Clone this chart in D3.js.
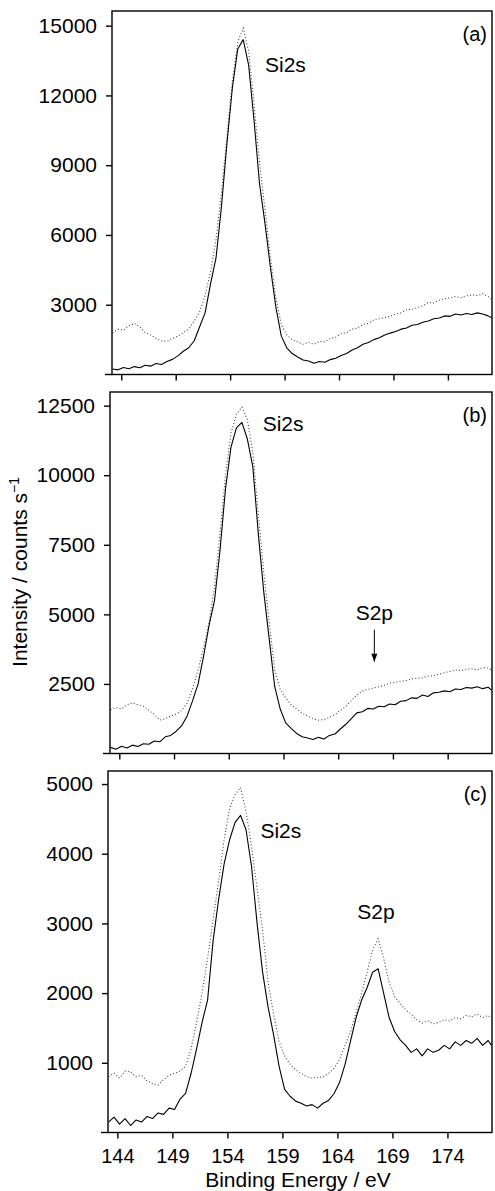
<!DOCTYPE html>
<html>
<head>
<meta charset="utf-8">
<script src="https://cdn.jsdelivr.net/npm/d3@7"></script>
<style>
body { margin: 0; background: #fff; }
svg { display: block; font-family: "Liberation Sans", Arial, Helvetica, sans-serif; }
</style>
</head>
<body>
<div id="chart"></div>
<script>
// binding energy (eV) of every sample
var energy = [143.2, 143.7, 144.2, 144.7, 145.2, 145.7, 146.2, 146.7, 147.2, 147.7,
    148.2, 148.7, 149.2, 149.7, 150.2, 150.7, 151.2, 151.7, 152.2, 152.7,
    153.2, 153.7, 154.2, 154.7, 155.2, 155.7, 156.2, 156.7, 157.2, 157.7,
    158.2, 158.7, 159.2, 159.7, 160.2, 160.7, 161.2, 161.7, 162.2, 162.7,
    163.2, 163.7, 164.2, 164.7, 165.2, 165.7, 166.2, 166.7, 167.2, 167.7,
    168.2, 168.7, 169.2, 169.7, 170.2, 170.7, 171.2, 171.7, 172.2, 172.7,
    173.2, 173.7, 174.2, 174.7, 175.2, 175.7, 176.2, 176.7, 177.2, 177.7, 178.0];

// panel (a)
var aSolid = [240, 200, 300, 250, 340, 290, 400, 360, 470, 430,
    560, 650, 800, 1000, 1150, 1450, 2050, 2650, 3900, 5000,
    7200, 9900, 12300, 14000, 14400, 13300, 10900, 8200, 6500, 4600,
    2900, 1650, 1150, 900, 750, 620, 580, 480, 560, 530,
    640, 700, 820, 900, 1050, 1150, 1300, 1380, 1500, 1580,
    1700, 1780, 1850, 1950, 2000, 2120, 2150, 2250, 2300, 2400,
    2430, 2520, 2500, 2600, 2560, 2620, 2580, 2650, 2600, 2520, 2440];
var aDotted = [1800, 1950, 1900, 2100, 2200, 2050, 1800, 1700, 1550, 1450,
    1420, 1550, 1650, 1800, 1950, 2300, 2700, 3400, 4400, 5800,
    7800, 10200, 12600, 14300, 14900, 13900, 11600, 9100, 7100, 5000,
    3300, 2150, 1700, 1500, 1400, 1300, 1380, 1300, 1420, 1400,
    1550, 1600, 1750, 1800, 1950, 2000, 2150, 2200, 2350, 2400,
    2450, 2500, 2600, 2650, 2780, 2800, 2880, 2950, 3100, 3080,
    3200, 3250, 3300, 3350, 3300, 3380, 3420, 3400, 3480, 3350, 3230];

// panel (b)
var bSolid = [220, 150, 260, 200, 300, 250, 350, 330, 450, 420,
    600, 650, 800, 1000, 1350, 1900, 2500, 3500, 4600, 5500,
    7300, 9500, 11000, 11700, 11900, 11300, 10300, 7900, 5800, 4100,
    2400, 1600, 1100, 900, 720, 600, 560, 500, 580, 520,
    650, 700, 880, 1050, 1250, 1460, 1500, 1620, 1600, 1700,
    1680, 1780, 1750, 1880, 1900, 2000, 1980, 2100, 2050, 2180,
    2200, 2250, 2220, 2320, 2300, 2370, 2350, 2400, 2330, 2380, 2280];
var bDotted = [1570, 1650, 1600, 1750, 1820, 1750, 1700, 1550, 1400, 1200,
    1250, 1350, 1420, 1550, 1800, 2350, 3000, 3800, 4700, 6000,
    7900, 10000, 11500, 12200, 12450, 12000, 10800, 8600, 6500, 4700,
    3000, 2300, 2000, 1750, 1600, 1450, 1350, 1250, 1200, 1220,
    1300, 1400, 1550, 1700, 1900, 2100, 2250, 2300, 2350, 2400,
    2450, 2530, 2550, 2600, 2620, 2680, 2700, 2720, 2780, 2800,
    2850, 2900, 2950, 3000, 2980, 3020, 3050, 3000, 3080, 3070, 3000];

// panel (c)
var cSolid = [150, 220, 120, 200, 100, 180, 150, 230, 200, 280,
    260, 350, 330, 480, 560, 850, 1200, 1580, 1900, 2750,
    3340, 3850, 4200, 4450, 4550, 4340, 3810, 3000, 2300, 1800,
    1400, 950, 620, 520, 450, 420, 380, 400, 350, 420,
    460, 560, 720, 980, 1320, 1650, 1900, 2080, 2300, 2350,
    2000, 1650, 1450, 1330, 1250, 1150, 1200, 1100, 1200, 1150,
    1180, 1250, 1200, 1300, 1250, 1320, 1280, 1350, 1250, 1320, 1250];
var cDotted = [800, 850, 780, 880, 870, 800, 820, 740, 700, 680,
    760, 820, 850, 880, 950, 1200, 1580, 2000, 2500, 3050,
    3600, 4200, 4650, 4850, 4950, 4600, 4100, 3500, 2900, 2150,
    1700, 1300, 1100, 980, 900, 850, 800, 780, 790, 800,
    850, 920, 1050, 1250, 1450, 1720, 2000, 2300, 2620, 2780,
    2500, 2150, 1950, 1850, 1760, 1700, 1620, 1570, 1600, 1560,
    1580, 1620, 1600, 1650, 1630, 1680, 1660, 1700, 1650, 1680, 1640];

var xTicks = [144, 149, 154, 159, 164, 169, 174];
var yTicksA = [3000, 6000, 9000, 12000, 15000];
var yTicksB = [2500, 5000, 7500, 10000, 12500];
var yTicksC = [1000, 2000, 3000, 4000, 5000];

var svgWidth = 495;
var svgHeight = 1191;
var right = 492;

var svg = d3.select("#chart").append("svg")
    .attr("width", svgWidth)
    .attr("height", svgHeight);

var panels = [
    { solid: aSolid, dotted: aDotted, ticks: yTicksA, ymax: 15630, left: 112, top: 11, bottom: 374.5,
      letter: "(a)", si: [157.2, 13000], s2p: null },
    { solid: bSolid, dotted: bDotted, ticks: yTicksB, ymax: 12990, left: 110, top: 392, bottom: 753.5,
      letter: "(b)", si: [157.1, 11600], s2p: "arrow" },
    { solid: cSolid, dotted: cDotted, ticks: yTicksC, ymax: 5187, left: 108, top: 771, bottom: 1132.5,
      letter: "(c)", si: [157.0, 4225], s2p: "label" }
];

panels.forEach(function (p, i) {
    var x = d3.scaleLinear().domain([143.15, 178.05]).range([p.left, right]);
    var y = d3.scaleLinear().domain([0, p.ymax]).range([p.bottom, p.top]);
    var g = svg.append("g");

    g.append("clipPath").attr("id", "clip" + i)
        .append("rect")
        .attr("x", p.left).attr("y", p.top)
        .attr("width", right - p.left).attr("height", p.bottom - p.top);

    var line = d3.line()
        .x(function (d, j) { return x(energy[j]); })
        .y(function (d) { return y(d); });

    // dotted trace
    g.append("path")
        .attr("clip-path", "url(#clip" + i + ")")
        .attr("d", line(p.dotted))
        .attr("fill", "none")
        .attr("stroke", "#444")
        .attr("stroke-width", 1.1)
        .attr("stroke-dasharray", "1,2.2");

    // solid trace
    g.append("path")
        .attr("clip-path", "url(#clip" + i + ")")
        .attr("d", line(p.solid))
        .attr("fill", "none")
        .attr("stroke", "#000")
        .attr("stroke-width", 1.1)
        .attr("stroke-linejoin", "round");

    // frame
    g.append("rect")
        .attr("x", p.left).attr("y", p.top)
        .attr("width", right - p.left).attr("height", p.bottom - p.top)
        .attr("fill", "none").attr("stroke", "#000").attr("stroke-width", 1.4);
    g.append("line")
        .attr("x1", p.left - 7).attr("x2", p.left)
        .attr("y1", p.bottom).attr("y2", p.bottom)
        .attr("stroke", "#000").attr("stroke-width", 1.4);

    var yAxis = d3.axisLeft(y).tickValues(p.ticks).tickFormat(d3.format("d"))
        .tickSize(6).tickPadding(9).tickSizeOuter(0);
    var ya = g.append("g").attr("transform", "translate(" + p.left + ",0)").call(yAxis);
    ya.select(".domain").remove();
    ya.selectAll("line").attr("stroke-width", 1.4);
    ya.selectAll("text").attr("font-size", 21).attr("fill", "#000")
        .attr("font-family", "'Liberation Sans', Arial, sans-serif");

    var xAxis = d3.axisBottom(x).tickValues(xTicks).tickFormat(d3.format("d"))
        .tickSize(6).tickPadding(10).tickSizeOuter(0);
    if (i < 2) xAxis.tickFormat("");
    var xa = g.append("g").attr("transform", "translate(0," + p.bottom + ")").call(xAxis);
    xa.select(".domain").remove();
    xa.selectAll("line").attr("stroke-width", 1.4);
    xa.selectAll("text").attr("font-size", 20).attr("fill", "#000")
        .attr("font-family", "'Liberation Sans', Arial, sans-serif");

    g.append("text")
        .attr("x", right - 5).attr("y", p.top + 30)
        .attr("text-anchor", "end").attr("font-size", 20)
        .text(p.letter);

    g.append("text")
        .attr("x", x(p.si[0])).attr("y", y(p.si[1]))
        .attr("font-size", 21)
        .text("Si2s");

    if (p.s2p == "arrow") {
        g.append("text")
            .attr("x", x(167.3)).attr("y", y(4810))
            .attr("text-anchor", "middle").attr("font-size", 21)
            .text("S2p");
        g.append("line")
            .attr("x1", x(167.3)).attr("x2", x(167.3))
            .attr("y1", y(4450)).attr("y2", y(3300))
            .attr("stroke", "#000").attr("stroke-width", 1);
        g.append("path")
            .attr("d", "M" + (x(167.3) - 3) + "," + (y(3300) - 8) + "L" + x(167.3) + "," + y(3300) +
                "L" + (x(167.3) + 3) + "," + (y(3300) - 8) + "Z")
            .attr("fill", "#000");
    }
    if (p.s2p == "label") {
        g.append("text")
            .attr("x", x(167.5)).attr("y", y(3070))
            .attr("text-anchor", "middle").attr("font-size", 21)
            .text("S2p");
    }
});

svg.append("text")
    .attr("transform", "translate(27,572) rotate(-90)")
    .attr("text-anchor", "middle")
    .attr("font-size", 21)
    .html("Intensity / counts s<tspan dy='-8' font-size='14'>\u22121</tspan>");

svg.append("text")
    .attr("x", 298).attr("y", 1187)
    .attr("text-anchor", "middle")
    .attr("font-size", 21)
    .text("Binding Energy / eV");
</script>
</body>
</html>
